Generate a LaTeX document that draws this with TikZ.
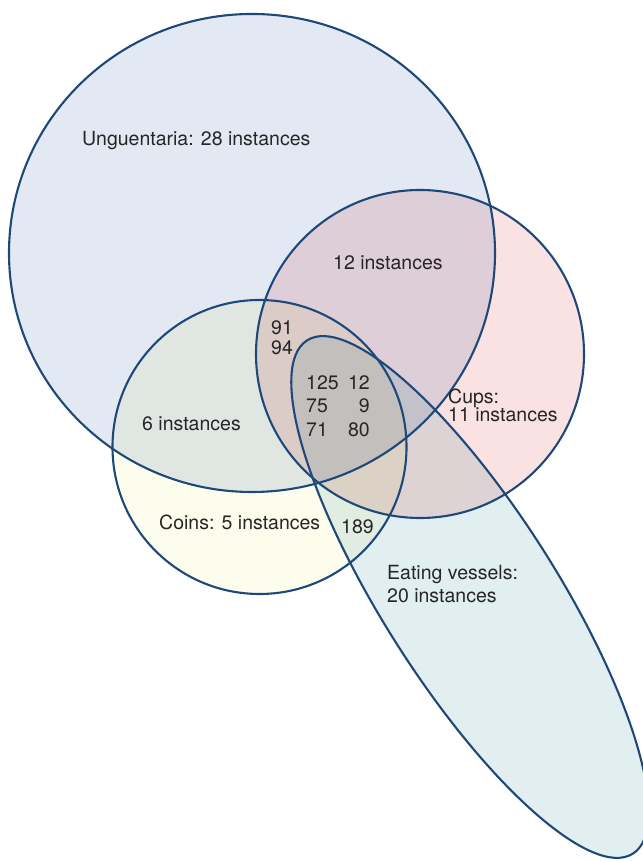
\documentclass[tikz,border=0pt]{standalone}
\usepackage{fontspec}
\setmainfont{TeX Gyre Heros}
\definecolor{ungfill}{HTML}{E2E9F3}
\definecolor{cupfill}{HTML}{FAE2E2}
\definecolor{coinfill}{HTML}{FDFDEE}
\definecolor{eatfill}{HTML}{E2EFF0}
\definecolor{edge}{HTML}{1E487A}
\begin{document}
\begin{tikzpicture}[x=1pt,y=1pt,
  lab/.style={inner sep=0pt, font=\fontsize{19.5}{20}\selectfont, text=black!85},
  rim/.style={draw=edge, line width=2.1pt}]
\useasboundingbox (0,0) rectangle (642,861);
\fill[white] (0,0) rectangle (642,861);
% fills, blended
\begin{scope}[blend group=multiply]
  \fill[ungfill] (252,608) ellipse [x radius=243pt, y radius=239pt];
  \fill[cupfill] (420,507) circle [radius=164pt];
  \fill[coinfill] (259.5,414) circle [radius=147pt];
  \fill[eatfill, rotate around={-57.6:(470,264)}] (470,264) ellipse [x radius=304pt, y radius=87pt];
\end{scope}
% outlines
\draw[rim] (252,608) ellipse [x radius=243pt, y radius=239pt];
\draw[rim] (420,507) circle [radius=164pt];
\draw[rim] (259.5,414) circle [radius=147pt];
\draw[rim, rotate around={-57.6:(470,264)}] (470,264) ellipse [x radius=304pt, y radius=87pt];
% labels
\node[lab, anchor=base west] (ung) at (82,715) {Unguentaria: 28 instances};
\node[lab, anchor=base west] (uc) at (333,591) {12 instances};
\node[lab, anchor=base west] (n91) at (271,526) {91};
\node[lab, anchor=base west] (n94) at (271,506) {94};
\node[lab, anchor=base west] (n125) at (306,471) {125};
\node[lab, anchor=base east] (n12) at (370,471) {12};
\node[lab, anchor=base west] (n75) at (306,448) {75};
\node[lab, anchor=base east] (n9) at (370,448) {9};
\node[lab, anchor=base west] (n71) at (306,424) {71};
\node[lab, anchor=base east] (n80) at (370,424) {80};
\node[lab, anchor=base west] (cups) at (448,457) {Cups:};
\node[lab, anchor=base west] (cupsn) at (448,439) {11 instances};
\node[lab, anchor=base west] (uco) at (142,430) {6 instances};
\node[lab, anchor=base west] (coins) at (159,331) {Coins: 5 instances};
\node[lab, anchor=base west] (n189) at (341,327) {189};
\node[lab, anchor=base west] (eat) at (387,281) {Eating vessels:};
\node[lab, anchor=base west] (eatn) at (387,258) {20 instances};
\end{tikzpicture}
\end{document}
